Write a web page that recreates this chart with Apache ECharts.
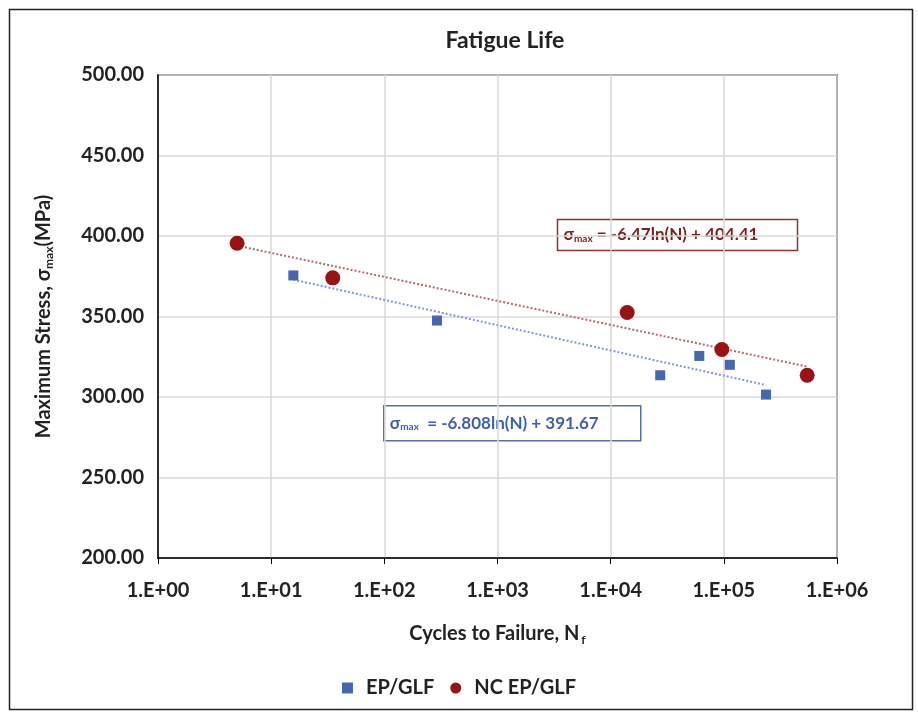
<!DOCTYPE html>
<html>
<head>
<meta charset="utf-8">
<script src="https://cdn.jsdelivr.net/npm/echarts@6/dist/echarts.min.js"></script>
<style>html,body{margin:0;padding:0;background:#fff}#c{width:918px;height:715px}</style>
</head>
<body>
<div id="c"></div>
<script>
// Data
const epCycles = [15.7, 292, 27400, 60700, 113000, 236000];
const epStress = [375.5, 347.5, 313.5, 325.5, 320.0, 301.5];
const ncCycles = [5, 35, 14000, 96000, 545000];
const ncStress = [395.5, 374.0, 352.5, 329.5, 313.5];
// Trendline end points (log fit shown in the chart)
const epTrendCycles = [15.7, 236000];
const epTrendStress = [372.9, 307.4];
const ncTrendCycles = [5, 545000];
const ncTrendStress = [394.0, 318.9];
const xTickLabels = ['1.E+00','1.E+01','1.E+02','1.E+03','1.E+04','1.E+05','1.E+06'];
const seriesNames = ['EP/GLF', 'NC EP/GLF'];
const epEquation = '-6.808ln(N) + 391.67';
const ncEquation = '-6.47ln(N) + 404.41';

const FONT = 'Lato, "Open Sans", sans-serif';
const BLUE = '#4566b0';
const RED = '#981414';
const TXT = '#222';

const zip = (a, b) => a.map((v, i) => [v, b[i]]);

const chart = echarts.init(document.getElementById('c'), null, {renderer: 'canvas'});
chart.setOption({
  animation: false,
  backgroundColor: '#fff',
  title: {
    text: 'Fatigue Life', left: 500, top: 24, textAlign: 'center',
    textStyle: {fontFamily: FONT, fontSize: 23, fontWeight: 'bold', color: TXT}
  },
  grid: {left: 158, right: 81, top: 75, bottom: 157, show: true, borderColor: '#000', borderWidth: 1.5},
  xAxis: {
    type: 'log', logBase: 10, min: 1, max: 1000000,
    axisLine: {show: true, lineStyle: {color: '#000', width: 1.5}},
    axisTick: {show: true, length: 6, lineStyle: {color: '#000'}},
    minorTick: {show: false},
    splitLine: {show: true, lineStyle: {color: '#d9d9d9', width: 1.5}},
    axisLabel: {
      margin: 23, fontFamily: FONT, fontSize: 20, fontWeight: 'bold', color: TXT,
      formatter: v => xTickLabels[Math.round(Math.log10(v))]
    },
    name: '{a|Cycles to Failure, N}{s|f}',
    nameLocation: 'middle', nameGap: 64,
    nameTextStyle: {
      rich: {
        a: {fontFamily: FONT, fontSize: 20, fontWeight: 'bold', color: TXT},
        s: {fontFamily: FONT, fontSize: 12, fontWeight: 'bold', color: TXT, padding: [12, 0, 0, 2]}
      }
    }
  },
  yAxis: {
    type: 'value', min: 200, max: 500, interval: 50,
    axisLine: {show: true, lineStyle: {color: '#000', width: 1.5}},
    axisTick: {show: false},
    splitLine: {show: true, lineStyle: {color: '#d9d9d9', width: 1.5}},
    axisLabel: {
      margin: 14, fontFamily: FONT, fontSize: 20, fontWeight: 'bold', color: TXT,
      formatter: v => v.toFixed(2)
    },
    name: '{a|Maximum Stress, σ}{s|max}{a|(MPa)}',
    nameLocation: 'middle', nameGap: 103, nameRotate: 90,
    nameTextStyle: {
      rich: {
        a: {fontFamily: FONT, fontSize: 20, fontWeight: 'bold', color: TXT},
        s: {fontFamily: FONT, fontSize: 12, fontWeight: 'bold', color: TXT, padding: [10, 0, 0, 0]}
      }
    }
  },
  legend: {
    data: [{name: seriesNames[0], icon: 'rect'}, {name: seriesNames[1], icon: 'circle'}],
    left: 'center', top: 673, itemWidth: 11, itemHeight: 11, itemGap: 16,
    textStyle: {fontFamily: FONT, fontSize: 20, fontWeight: 'bold', color: TXT, padding: [0, 0, 0, 8]}
  },
  series: [
    {
      name: seriesNames[0], type: 'scatter', symbol: 'rect', symbolSize: 10,
      itemStyle: {color: BLUE, opacity: 1}, data: zip(epCycles, epStress), z: 5
    },
    {
      name: seriesNames[1], type: 'scatter', symbol: 'circle', symbolSize: 15,
      itemStyle: {color: RED, opacity: 1}, data: zip(ncCycles, ncStress), z: 5
    },
    {
      name: 'epTrend', type: 'line', symbol: 'none', data: zip(epTrendCycles, epTrendStress),
      lineStyle: {color: '#7f99cc', width: 2, type: 'dotted'}, z: 3, silent: true
    },
    {
      name: 'ncTrend', type: 'line', symbol: 'none', data: zip(ncTrendCycles, ncTrendStress),
      lineStyle: {color: '#b06a6a', width: 2, type: 'dotted'}, z: 3, silent: true
    }
  ],
  graphic: [
    {type: 'rect', left: 7, top: 7, z: 100, shape: {width: 903, height: 700}, style: {fill: 'none', stroke: '#222', lineWidth: 1.5}, silent: true},
    {
      type: 'group', left: 555, top: 217, z: 100, children: [
        {type: 'rect', shape: {width: 240, height: 31}, style: {fill: 'none', stroke: '#8a3535', lineWidth: 1.5}},
        {type: 'text', left: 6, top: 7, style: {
          text: '{s|σ}{m|max}{t| = ' + ncEquation + '}',
          rich: {
            s: {fontFamily: FONT, fontSize: 17, fontWeight: 'bold', fill: '#7a2020'},
            m: {fontFamily: FONT, fontSize: 10, fontWeight: 'bold', fill: '#7a2020', padding: [8, 0, 0, 0]},
            t: {fontFamily: FONT, fontSize: 17, fontWeight: 'bold', fill: '#7a2020'}
          }
        }}
      ]
    },
    {
      type: 'group', left: 383, top: 405, z: 100, children: [
        {type: 'rect', shape: {width: 257, height: 35}, style: {fill: '#fff', stroke: '#5a6fa8', lineWidth: 1.5}},
        {type: 'text', left: 6, top: 9, style: {
          text: '{s|σ}{m|max}{t|  = ' + epEquation + '}',
          rich: {
            s: {fontFamily: FONT, fontSize: 17, fontWeight: 'bold', fill: '#3d5fb5'},
            m: {fontFamily: FONT, fontSize: 10, fontWeight: 'bold', fill: '#3d5fb5', padding: [8, 0, 0, 0]},
            t: {fontFamily: FONT, fontSize: 17, fontWeight: 'bold', fill: '#3d5fb5'}
          }
        }}
      ]
    }
  ]
});
</script>
</body>
</html>
